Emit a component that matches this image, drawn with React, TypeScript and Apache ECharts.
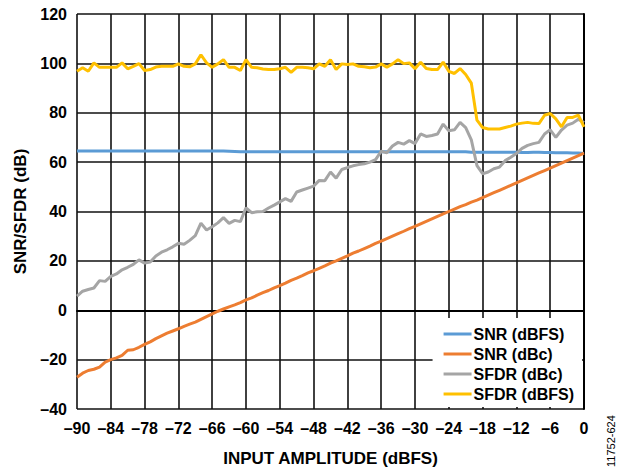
import React, { useEffect, useRef } from "react";
import * as echarts from "echarts";

const amplitude = [
  -90, -89, -88, -87, -86, -85, -84, -83, -82, -81,
  -80, -79, -78, -77, -76, -75, -74, -73, -72, -71,
  -70, -69, -68, -67, -66, -65, -64, -63, -62, -61,
  -60, -59, -58, -57, -56, -55, -54, -53, -52, -51,
  -50, -49, -48, -47, -46, -45, -44, -43, -42, -41,
  -40, -39, -38, -37, -36, -35, -34, -33, -32, -31,
  -30, -29, -28, -27, -26, -25, -24, -23, -22, -21,
  -20, -19, -18, -17, -16, -15, -14, -13, -12, -11,
  -10, -9, -8, -7, -6, -5, -4, -3, -2, -1,
  0,
];

const snrDbfs = [
  64.5, 64.5, 64.5, 64.5, 64.5, 64.5, 64.5, 64.5, 64.5, 64.5,
  64.5, 64.5, 64.5, 64.5, 64.5, 64.5, 64.5, 64.5, 64.5, 64.5,
  64.5, 64.5, 64.5, 64.5, 64.5, 64.5, 64.5, 64.4, 64.3, 64.2,
  64.2, 64.2, 64.2, 64.2, 64.2, 64.2, 64.2, 64.2, 64.2, 64.2,
  64.2, 64.2, 64.2, 64.2, 64.2, 64.2, 64.2, 64.2, 64.2, 64.2,
  64.2, 64.2, 64.2, 64.2, 64.2, 64.2, 64.2, 64.2, 64.2, 64.2,
  64.2, 64.2, 64.2, 64.2, 64.2, 64.2, 64.2, 64.2, 64.2, 64.2,
  64.0, 64.0, 64.0, 64.0, 64.0, 64.0, 64.0, 64.0, 64.0, 63.9,
  63.9, 64.0, 64.0, 63.9, 63.9, 63.8, 63.8, 63.8, 63.7, 63.7,
  63.5,
];

const snrDbc = [
  -27.1, -25.5, -24.4, -23.9, -23, -21, -20, -19.3, -18.3, -16.2,
  -16, -15, -13.8, -12.8, -11.5, -10.4, -9.3, -8.4, -7.5, -6.5,
  -5.6, -4.8, -3.7, -2.6, -1.5, -0.4, 0.5, 1.4, 2.2, 3.1,
  4.2, 5, 6.1, 7.1, 8, 9.1, 10, 11, 12.1, 13,
  14, 15.1, 16, 17, 18, 19.1, 20, 21, 22, 23.1,
  24, 25, 26, 27.1, 28, 29, 30, 31, 32, 33.1,
  34, 35, 36, 37, 38, 39, 40, 41, 42, 42.8,
  43.8, 44.6, 45.6, 46.6, 47.6, 48.6, 49.6, 50.6, 51.6, 52.6,
  53.6, 54.6, 55.6, 56.6, 57.6, 58.6, 59.6, 60.6, 61.6, 62.6,
  63.6,
];

const sfdrDbc = [
  5.7, 7.7, 8.4, 9, 12, 11.7, 13.7, 14.7, 16.4, 17.4,
  18.6, 20.4, 19.1, 19.5, 22, 23.5, 24.5, 25.7, 27.1, 26.7,
  28.3, 30.2, 35.3, 32.5, 33.8, 35.4, 37.5, 35.2, 36.4, 35.9,
  41.5, 39.5, 39.9, 40, 41.4, 42.6, 43.9, 45.2, 44.1, 47.9,
  48.7, 49.5, 50.3, 52.6, 52.5, 56, 53.5, 57, 57.8, 58.5,
  59, 59.3, 60, 61, 64.4, 63.8, 66.5, 68, 67.3, 68.7,
  67.5, 71.4, 70.4, 70.8, 71.4, 75.4, 72.7, 73.1, 76.1, 74,
  69, 58.6, 55.3, 56, 57.3, 58, 60.6, 62, 63.5, 65.6,
  66.8, 67.5, 68, 71.4, 73.1, 70, 73, 75, 75.8, 77.4,
  76,
];

const sfdrDbfs = [
  96.8, 98.2, 96.8, 100.2, 98.4, 98.4, 98.4, 98.4, 100.2, 97.8,
  98.8, 99.9, 97.1, 97.5, 98.5, 98.8, 98.8, 98.8, 99.8, 98.8,
  98.6, 99.8, 103.5, 100.2, 98.4, 99.8, 101.5, 98.4, 98.4, 97.1,
  101.5, 98.4, 98.2, 97.7, 97.5, 97.5, 97.8, 98.4, 96.4, 98.4,
  98.4, 98.2, 97.8, 99.8, 98.8, 101.5, 97.5, 99.8, 99.5, 99.8,
  98.8, 98.6, 98.2, 98.5, 99.8, 98.4, 99.8, 101.5, 99.9, 100.2,
  97.8, 100.5, 97.9, 97.5, 97.5, 100.5, 96.8, 95.9, 97.9, 95.5,
  92, 77, 74, 73.4, 73.4, 73.4, 74, 74.6, 75.4, 75.8,
  76.1, 75.7, 75.6, 79, 79.7, 77.5, 74.3, 78.1, 78.1, 79,
  74.3,
];

const seriesNames = ["SNR (dBFS)", "SNR (dBc)", "SFDR (dBc)", "SFDR (dBFS)"];
const seriesColors = ["#5B9BD5", "#ED7D31", "#A5A5A5", "#FFC000"];
const seriesValues = [snrDbfs, snrDbc, sfdrDbc, sfdrDbfs];

const FONT = "'Liberation Sans', Arial, Helvetica, sans-serif";

export default function App() {
  const ref = useRef<HTMLDivElement>(null);

  useEffect(() => {
    if (!ref.current) return;
    const chart = echarts.init(ref.current, undefined, { renderer: "svg" });
    const dash = (v: number) => String(v).replace("-", "\u2013");
    chart.setOption({
      animation: false,
      backgroundColor: "#ffffff",
      grid: { left: 77, right: 40, top: 14, bottom: 60, containLabel: false },
      xAxis: {
        type: "value",
        min: -90,
        max: 0,
        interval: 6,
        name: "INPUT AMPLITUDE (dBFS)",
        nameLocation: "middle",
        nameGap: 41,
        nameTextStyle: { fontFamily: FONT, fontWeight: "bold", fontSize: 17, color: "#000" },
        axisLine: { show: true, lineStyle: { color: "#000", width: 2 } },
        axisTick: { show: false },
        axisLabel: {
          formatter: dash,
          fontFamily: FONT,
          fontWeight: "bold",
          fontSize: 16,
          color: "#000",
          margin: 11,
        },
        splitLine: { show: true, lineStyle: { color: "#111", width: 1.6 } },
      },
      yAxis: {
        type: "value",
        min: -40,
        max: 120,
        interval: 20,
        name: "SNR/SFDR (dB)",
        nameLocation: "middle",
        nameGap: 46,
        nameRotate: 90,
        nameTextStyle: { fontFamily: FONT, fontWeight: "bold", fontSize: 17, color: "#000" },
        axisLine: { show: true, lineStyle: { color: "#000", width: 2 } },
        axisTick: { show: false },
        axisLabel: {
          formatter: dash,
          fontFamily: FONT,
          fontWeight: "bold",
          fontSize: 16,
          color: "#000",
          margin: 10,
        },
        splitLine: { show: true, lineStyle: { color: "#111", width: 1.6 } },
      },
      legend: {
        orient: "vertical",
        right: 42,
        top: 318,
        backgroundColor: "#ffffff",
        padding: [6, 8, 3, 11],
        itemGap: 0,
        itemWidth: 28,
        itemHeight: 3,
        icon: "rect",
        data: seriesNames,
        textStyle: {
          fontFamily: FONT,
          fontWeight: "bold",
          fontSize: 16,
          color: "#000",
          lineHeight: 20,
          padding: [0, 0, 0, -3],
        },
      },
      graphic: [
        {
          type: "text",
          x: 605,
          y: 467,
          rotation: Math.PI / 2,
          style: {
            text: "11752-624",
            fontFamily: FONT,
            fontSize: 11,
            fill: "#000",
            textAlign: "left",
            textVerticalAlign: "top",
          },
        },
      ],
      series: seriesNames.map((name, k) => ({
        name,
        type: "line",
        symbol: "none",
        color: seriesColors[k],
        lineStyle: { color: seriesColors[k], width: 3 },
        data: amplitude.map((a, i) => [a, seriesValues[k][i]]),
      })),
    });
    return () => chart.dispose();
  }, []);

  return (
    <div
      ref={ref}
      style={{ position: "fixed", left: 0, top: 0, width: 624, height: 472, background: "#fff" }}
    />
  );
}
